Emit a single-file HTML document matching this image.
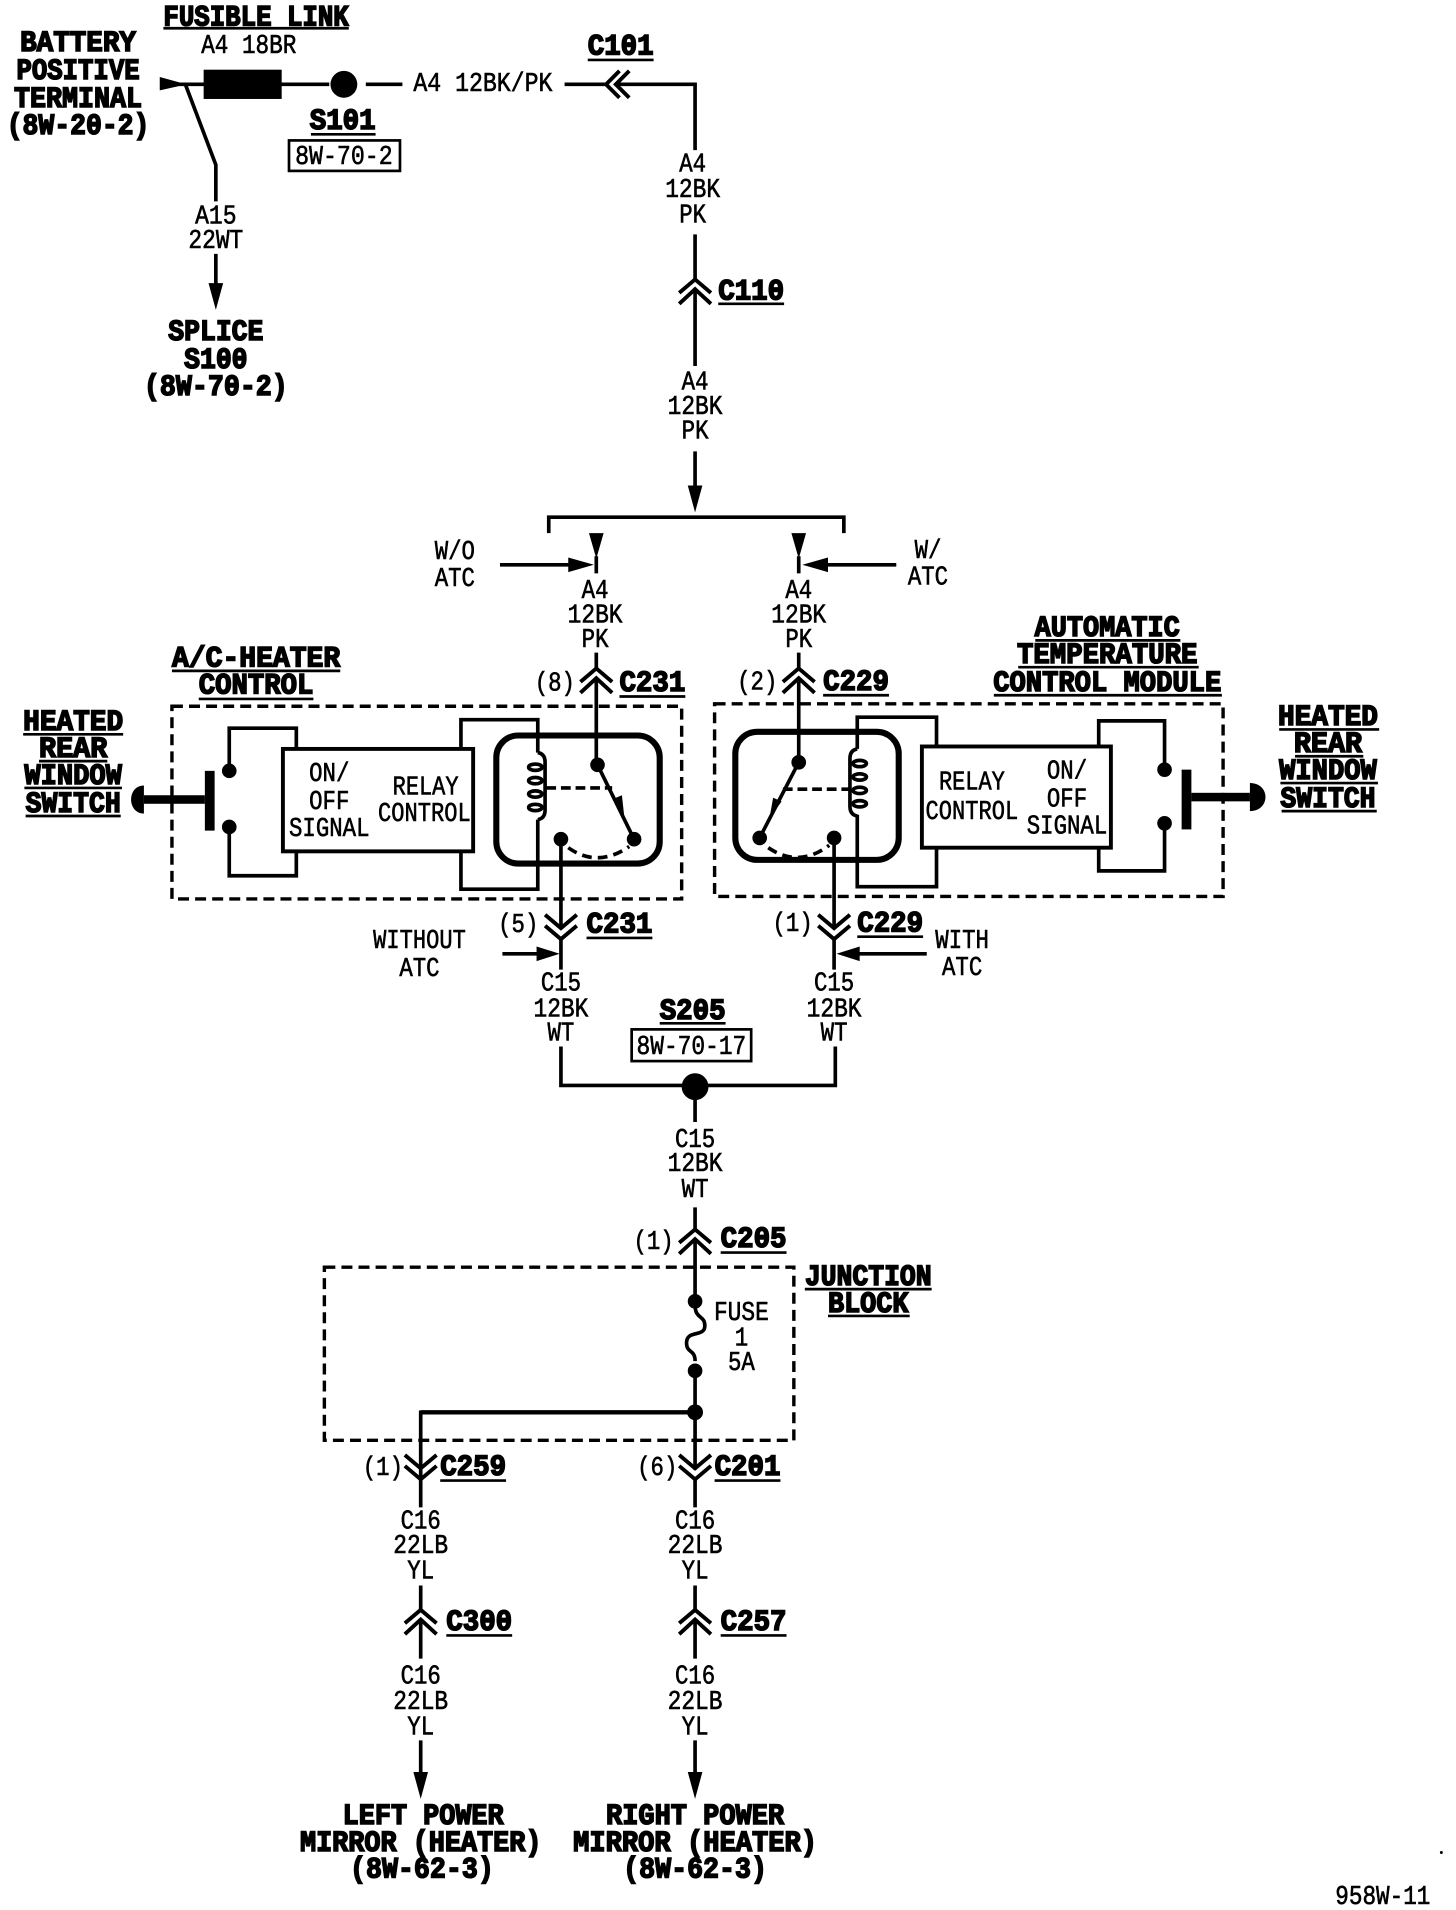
<!DOCTYPE html>
<html><head><meta charset="utf-8"><style>
html,body{margin:0;padding:0;background:#fff}
svg{display:block}
.r{font:22px "Liberation Mono",monospace;fill:#000;text-anchor:middle;stroke:#000;stroke-width:.5;transform:translateY(-.7px)}
.b{font:bold 24px "Liberation Mono",monospace;fill:#000;text-anchor:middle;stroke:#000;stroke-width:1.3;transform:translateY(-1.4px)}
.w{fill:none;stroke:#000;stroke-width:3}
.u{fill:none;stroke:#000;stroke-width:2.2}
.d{fill:none;stroke:#000;stroke-width:2.8;stroke-dasharray:9 5}
.c{fill:none;stroke:#000;stroke-width:3.2}
</style></head><body>
<svg width="1456" height="1910" viewBox="0 0 1194 1566" xmlns="http://www.w3.org/2000/svg">
<defs>
<g id="cu"><polyline class="c" points="-13,1 0,-10 13,1"/><polyline class="c" points="-13,10 0,-2 13,10"/></g>
<g id="cd"><polyline class="c" points="-13,-10 0,1 13,-10"/><polyline class="c" points="-13,-1 0,10 13,-1"/></g>
<polygon id="ad" points="-6,-22 6,-22 0,0"/>
</defs>
<rect width="1194" height="1566" fill="#fff"/>

<!-- top -->
<polygon points="131,63 131,74 153,69"/>
<path class="w" d="M140,69H270M300,69H330M463,69H497M505,69H570V123"/>
<rect x="167" y="57" width="64" height="24"/>
<circle cx="282" cy="69" r="11"/>
<polyline class="c" points="508,58 497,69 508,80"/><polyline class="c" points="516,58 505,69 516,80"/>
<path class="w" d="M152,69L177,135V165M177,208V235"/>
<use href="#ad" x="177" y="254"/>
<rect x="237" y="115" width="91" height="25" class="u"/>
<path class="u" d="M134,23H286M255,110H308M482,49H536"/>
<text class="b" x="64" y="43" textLength="95" lengthAdjust="spacingAndGlyphs">BATTERY</text>
<text class="b" x="64" y="66" textLength="101" lengthAdjust="spacingAndGlyphs">POSITIVE</text>
<text class="b" x="64" y="89" textLength="105" lengthAdjust="spacingAndGlyphs">TERMINAL</text>
<text class="b" x="64" y="111" textLength="117" lengthAdjust="spacingAndGlyphs">(8W-20-2)</text>
<text class="b" x="210" y="22" textLength="152" lengthAdjust="spacingAndGlyphs">FUSIBLE LINK</text>
<text class="r" x="204" y="44" textLength="78" lengthAdjust="spacingAndGlyphs">A4 18BR</text>
<text class="r" x="396" y="75" textLength="114" lengthAdjust="spacingAndGlyphs">A4 12BK/PK</text>
<text class="b" x="509" y="46" textLength="54" lengthAdjust="spacingAndGlyphs">C101</text>
<text class="b" x="281" y="107" textLength="54" lengthAdjust="spacingAndGlyphs">S101</text>
<text class="r" x="282" y="135" textLength="80" lengthAdjust="spacingAndGlyphs">8W-70-2</text>
<text class="r" x="177" y="184" textLength="34" lengthAdjust="spacingAndGlyphs">A15</text>
<text class="r" x="177" y="204" textLength="45" lengthAdjust="spacingAndGlyphs">22WT</text>
<text class="b" x="177" y="280" textLength="78" lengthAdjust="spacingAndGlyphs">SPLICE</text>
<text class="b" x="177" y="303" textLength="52" lengthAdjust="spacingAndGlyphs">S100</text>
<text class="b" x="177" y="325" textLength="118" lengthAdjust="spacingAndGlyphs">(8W-70-2)</text>

<!-- main trunk -->
<text class="r" x="568" y="141" textLength="22" lengthAdjust="spacingAndGlyphs">A4</text>
<text class="r" x="568" y="162" textLength="45" lengthAdjust="spacingAndGlyphs">12BK</text>
<text class="r" x="568" y="183" textLength="22" lengthAdjust="spacingAndGlyphs">PK</text>
<path class="w" d="M570,192V229M570,238V300M570,370V400"/>
<use href="#cu" x="570" y="239"/>
<path class="u" d="M589,249H643"/>
<text class="b" x="616" y="247" textLength="54" lengthAdjust="spacingAndGlyphs">C110</text>
<text class="r" x="570" y="320" textLength="22" lengthAdjust="spacingAndGlyphs">A4</text>
<text class="r" x="570" y="340" textLength="45" lengthAdjust="spacingAndGlyphs">12BK</text>
<text class="r" x="570" y="360" textLength="22" lengthAdjust="spacingAndGlyphs">PK</text>
<use href="#ad" x="570" y="420"/>
<path class="w" d="M450,437V424H692V437M489,456V470M655,456V470"/>
<polygon points="483,437 495,437 489,458"/><polygon points="649,437 661,437 655,458"/>
<path class="w" d="M410,463H470M735,463H676"/>
<polygon points="466,457 466,469 487,463"/><polygon points="679,457 679,469 658,463"/>
<text class="r" x="373" y="459" textLength="33" lengthAdjust="spacingAndGlyphs">W/O</text>
<text class="r" x="373" y="481" textLength="33" lengthAdjust="spacingAndGlyphs">ATC</text>
<text class="r" x="761" y="458" textLength="22" lengthAdjust="spacingAndGlyphs">W/</text>
<text class="r" x="761" y="480" textLength="33" lengthAdjust="spacingAndGlyphs">ATC</text>
<text class="r" x="488" y="491" textLength="22" lengthAdjust="spacingAndGlyphs">A4</text>
<text class="r" x="488" y="511" textLength="45" lengthAdjust="spacingAndGlyphs">12BK</text>
<text class="r" x="488" y="531" textLength="22" lengthAdjust="spacingAndGlyphs">PK</text>
<text class="r" x="655" y="491" textLength="22" lengthAdjust="spacingAndGlyphs">A4</text>
<text class="r" x="655" y="511" textLength="45" lengthAdjust="spacingAndGlyphs">12BK</text>
<text class="r" x="655" y="531" textLength="22" lengthAdjust="spacingAndGlyphs">PK</text>

<!-- connectors above modules -->
<path class="w" d="M489,535V549M489,557V627M655,535V549M655,557V625"/>
<use href="#cu" x="489" y="558"/><use href="#cu" x="655" y="558"/>
<text class="r" x="455" y="567" textLength="33" lengthAdjust="spacingAndGlyphs">(8)</text>
<text class="r" x="621" y="566" textLength="33" lengthAdjust="spacingAndGlyphs">(2)</text>
<text class="b" x="535" y="568" textLength="54" lengthAdjust="spacingAndGlyphs">C231</text>
<text class="b" x="702" y="567" textLength="54" lengthAdjust="spacingAndGlyphs">C229</text>
<path class="u" d="M508,571H562M675,570H729M141,550H279M163,573H257M849,525H968M835,547H983M815,570H1002M19,602H101M32,624H88M20,646H100M21,669H99M1049,598H1131M1062,620H1118M1050,642H1130M1051,665H1129"/>
<text class="b" x="210" y="548" textLength="138" lengthAdjust="spacingAndGlyphs">A/C-HEATER</text>
<text class="b" x="210" y="570" textLength="94" lengthAdjust="spacingAndGlyphs">CONTROL</text>
<text class="b" x="908" y="523" textLength="119" lengthAdjust="spacingAndGlyphs">AUTOMATIC</text>
<text class="b" x="908" y="545" textLength="148" lengthAdjust="spacingAndGlyphs">TEMPERATURE</text>
<text class="b" x="908" y="568" textLength="187" lengthAdjust="spacingAndGlyphs">CONTROL MODULE</text>
<text class="b" x="60" y="600" textLength="82" lengthAdjust="spacingAndGlyphs">HEATED</text>
<text class="b" x="60" y="622" textLength="56" lengthAdjust="spacingAndGlyphs">REAR</text>
<text class="b" x="60" y="644" textLength="80" lengthAdjust="spacingAndGlyphs">WINDOW</text>
<text class="b" x="60" y="667" textLength="78" lengthAdjust="spacingAndGlyphs">SWITCH</text>
<text class="b" x="1089" y="596" textLength="82" lengthAdjust="spacingAndGlyphs">HEATED</text>
<text class="b" x="1089" y="618" textLength="56" lengthAdjust="spacingAndGlyphs">REAR</text>
<text class="b" x="1089" y="640" textLength="80" lengthAdjust="spacingAndGlyphs">WINDOW</text>
<text class="b" x="1089" y="663" textLength="78" lengthAdjust="spacingAndGlyphs">SWITCH</text>

<!-- left module -->
<rect class="d" x="141" y="579" width="418" height="158"/>
<rect x="232" y="614" width="156" height="84" class="c"/>
<rect x="407" y="603" width="134" height="105" rx="18" fill="none" stroke="#000" stroke-width="5"/>
<path class="w" d="M243,614V597H188V632M188,678V718H243V698M378,614V590H441V617M441,672V729H378V698"/>
<circle cx="188" cy="632" r="6"/><circle cx="188" cy="678" r="6"/>
<rect x="168" y="632" width="8" height="49"/>
<rect x="118" y="652" width="50" height="7"/>
<path d="M118,644C104,644 104,667 118,667Z"/>
<path class="w" d="M441,617Q447,618 447,625V664Q447,671 441,672"/>
<ellipse class="w" cx="439" cy="629" rx="5.5" ry="2.6"/><ellipse class="w" cx="439" cy="640" rx="5.5" ry="2.6"/><ellipse class="w" cx="439" cy="651" rx="5.5" ry="2.6"/><ellipse class="w" cx="439" cy="662" rx="5.5" ry="2.6"/>
<path class="w" stroke-dasharray="8 4" d="M448,646H502"/>
<circle cx="490" cy="627" r="6"/><circle cx="520" cy="688" r="6"/><circle cx="460" cy="688" r="6"/>
<path class="w" d="M490,627L518,684"/>
<polygon points="503,655 510,652 512,670"/>
<path class="w" stroke-dasharray="8 5" d="M466,695Q490,712 516,694"/>
<text class="r" x="270" y="641" textLength="33" lengthAdjust="spacingAndGlyphs">ON/</text>
<text class="r" x="270" y="664" textLength="33" lengthAdjust="spacingAndGlyphs">OFF</text>
<text class="r" x="270" y="686" textLength="66" lengthAdjust="spacingAndGlyphs">SIGNAL</text>
<text class="r" x="349" y="652" textLength="54" lengthAdjust="spacingAndGlyphs">RELAY</text>
<text class="r" x="348" y="674" textLength="76" lengthAdjust="spacingAndGlyphs">CONTROL</text>

<!-- right module -->
<rect class="d" x="586" y="577" width="417" height="158"/>
<rect x="756" y="612" width="155" height="83" class="c"/>
<rect x="603" y="600" width="134" height="105" rx="18" fill="none" stroke="#000" stroke-width="5"/>
<path class="w" d="M768,612V588H703V614M703,668V727H768V695M901,612V591H955V631M955,675V714H901V695"/>
<circle cx="955" cy="631" r="6"/><circle cx="955" cy="675" r="6"/>
<rect x="969" y="631" width="8" height="49"/>
<rect x="977" y="650" width="48" height="7"/>
<path d="M1025,642C1042,642 1042,665 1025,665Z"/>
<path class="w" d="M703,614Q697,615 697,622V661Q697,668 703,669"/>
<ellipse class="w" cx="705" cy="626" rx="5.5" ry="2.6"/><ellipse class="w" cx="705" cy="637" rx="5.5" ry="2.6"/><ellipse class="w" cx="705" cy="648" rx="5.5" ry="2.6"/><ellipse class="w" cx="705" cy="659" rx="5.5" ry="2.6"/>
<path class="w" stroke-dasharray="8 4" d="M642,647H696"/>
<circle cx="655" cy="625" r="6"/><circle cx="623" cy="687" r="6"/><circle cx="684" cy="687" r="6"/>
<path class="w" d="M655,625L625,683"/>
<polygon points="634,654 641,657 631,671"/>
<path class="w" stroke-dasharray="8 5" d="M630,695Q655,712 680,693"/>
<text class="r" x="797" y="648" textLength="54" lengthAdjust="spacingAndGlyphs">RELAY</text>
<text class="r" x="797" y="672" textLength="76" lengthAdjust="spacingAndGlyphs">CONTROL</text>
<text class="r" x="875" y="639" textLength="33" lengthAdjust="spacingAndGlyphs">ON/</text>
<text class="r" x="875" y="662" textLength="33" lengthAdjust="spacingAndGlyphs">OFF</text>
<text class="r" x="875" y="684" textLength="66" lengthAdjust="spacingAndGlyphs">SIGNAL</text>

<!-- below modules -->
<path class="w" d="M460,688V761M460,769V795M684,687V761M684,769V795"/>
<use href="#cd" x="460" y="760"/><use href="#cd" x="684" y="760"/>
<text class="r" x="425" y="765" textLength="33" lengthAdjust="spacingAndGlyphs">(5)</text>
<text class="r" x="650" y="764" textLength="33" lengthAdjust="spacingAndGlyphs">(1)</text>
<text class="b" x="508" y="766" textLength="54" lengthAdjust="spacingAndGlyphs">C231</text>
<text class="b" x="730" y="765" textLength="54" lengthAdjust="spacingAndGlyphs">C229</text>
<path class="u" d="M481,769H535M703,768H757M541,839H595"/>
<text class="r" x="344" y="778" textLength="76" lengthAdjust="spacingAndGlyphs">WITHOUT</text>
<text class="r" x="344" y="801" textLength="33" lengthAdjust="spacingAndGlyphs">ATC</text>
<text class="r" x="789" y="778" textLength="44" lengthAdjust="spacingAndGlyphs">WITH</text>
<text class="r" x="789" y="800" textLength="33" lengthAdjust="spacingAndGlyphs">ATC</text>
<path class="w" d="M412,782H445M760,782H700"/>
<polygon points="440,776 440,788 459,782"/><polygon points="705,776 705,788 686,782"/>
<text class="r" x="460" y="813" textLength="33" lengthAdjust="spacingAndGlyphs">C15</text>
<text class="r" x="460" y="834" textLength="45" lengthAdjust="spacingAndGlyphs">12BK</text>
<text class="r" x="460" y="854" textLength="22" lengthAdjust="spacingAndGlyphs">WT</text>
<text class="r" x="684" y="813" textLength="33" lengthAdjust="spacingAndGlyphs">C15</text>
<text class="r" x="684" y="834" textLength="45" lengthAdjust="spacingAndGlyphs">12BK</text>
<text class="r" x="684" y="854" textLength="22" lengthAdjust="spacingAndGlyphs">WT</text>
<path class="w" d="M460,858V890H685V858M570,890V920"/>
<circle cx="570" cy="891" r="11"/>
<text class="b" x="568" y="837" textLength="54" lengthAdjust="spacingAndGlyphs">S205</text>
<rect x="518" y="844" width="98" height="26" class="u"/>
<text class="r" x="567" y="865" textLength="90" lengthAdjust="spacingAndGlyphs">8W-70-17</text>

<text class="r" x="570" y="941" textLength="33" lengthAdjust="spacingAndGlyphs">C15</text>
<text class="r" x="570" y="961" textLength="45" lengthAdjust="spacingAndGlyphs">12BK</text>
<text class="r" x="570" y="982" textLength="22" lengthAdjust="spacingAndGlyphs">WT</text>
<path class="w" d="M570,990V1008M570,1017V1067"/>
<use href="#cu" x="570" y="1018"/>
<text class="r" x="536" y="1025" textLength="33" lengthAdjust="spacingAndGlyphs">(1)</text>
<text class="b" x="618" y="1024" textLength="54" lengthAdjust="spacingAndGlyphs">C205</text>
<path class="u" d="M591,1027H645M660,1057H764M679,1079H746M361,1214H415M586,1214H640M366,1341H420M591,1341H645"/>

<!-- junction block -->
<rect class="d" x="266" y="1039" width="385" height="142"/>
<text class="b" x="712" y="1055" textLength="104" lengthAdjust="spacingAndGlyphs">JUNCTION</text>
<text class="b" x="712" y="1077" textLength="66" lengthAdjust="spacingAndGlyphs">BLOCK</text>
<circle cx="570" cy="1067" r="6"/><circle cx="570" cy="1124" r="6"/><circle cx="570" cy="1158" r="6.5"/>
<path class="w" d="M570,1070C570,1082 578,1078 578,1087C578,1097 563,1090 563,1101C563,1110 570,1106 570,1116M570,1124V1205M345,1212V1158H570"/>
<path d="M345,1156.2H570V1159.8H345Z"/>
<text class="r" x="608" y="1083" textLength="45" lengthAdjust="spacingAndGlyphs">FUSE</text>
<text class="r" x="608" y="1104" textLength="11" lengthAdjust="spacingAndGlyphs">1</text>
<text class="r" x="608" y="1124" textLength="22" lengthAdjust="spacingAndGlyphs">5A</text>

<use href="#cd" x="345" y="1203"/><use href="#cd" x="570" y="1203"/>
<text class="r" x="314" y="1210" textLength="33" lengthAdjust="spacingAndGlyphs">(1)</text>
<text class="r" x="539" y="1210" textLength="33" lengthAdjust="spacingAndGlyphs">(6)</text>
<text class="b" x="388" y="1211" textLength="54" lengthAdjust="spacingAndGlyphs">C259</text>
<text class="b" x="613" y="1211" textLength="54" lengthAdjust="spacingAndGlyphs">C201</text>
<path class="w" d="M345,1213V1236M570,1213V1236M345,1300V1321M345,1329V1360M570,1300V1321M570,1329V1360M345,1427V1460M570,1427V1460"/>
<text class="r" x="345" y="1254" textLength="33" lengthAdjust="spacingAndGlyphs">C16</text>
<text class="r" x="345" y="1274" textLength="45" lengthAdjust="spacingAndGlyphs">22LB</text>
<text class="r" x="345" y="1295" textLength="22" lengthAdjust="spacingAndGlyphs">YL</text>
<text class="r" x="570" y="1254" textLength="33" lengthAdjust="spacingAndGlyphs">C16</text>
<text class="r" x="570" y="1274" textLength="45" lengthAdjust="spacingAndGlyphs">22LB</text>
<text class="r" x="570" y="1295" textLength="22" lengthAdjust="spacingAndGlyphs">YL</text>
<use href="#cu" x="345" y="1330"/><use href="#cu" x="570" y="1330"/>
<text class="b" x="393" y="1338" textLength="54" lengthAdjust="spacingAndGlyphs">C300</text>
<text class="b" x="618" y="1338" textLength="54" lengthAdjust="spacingAndGlyphs">C257</text>
<text class="r" x="345" y="1381" textLength="33" lengthAdjust="spacingAndGlyphs">C16</text>
<text class="r" x="345" y="1402" textLength="45" lengthAdjust="spacingAndGlyphs">22LB</text>
<text class="r" x="345" y="1423" textLength="22" lengthAdjust="spacingAndGlyphs">YL</text>
<text class="r" x="570" y="1381" textLength="33" lengthAdjust="spacingAndGlyphs">C16</text>
<text class="r" x="570" y="1402" textLength="45" lengthAdjust="spacingAndGlyphs">22LB</text>
<text class="r" x="570" y="1423" textLength="22" lengthAdjust="spacingAndGlyphs">YL</text>
<use href="#ad" x="345" y="1475"/><use href="#ad" x="570" y="1475"/>

<text class="b" x="347" y="1497" textLength="132" lengthAdjust="spacingAndGlyphs">LEFT POWER</text>
<text class="b" x="345" y="1519" textLength="198" lengthAdjust="spacingAndGlyphs">MIRROR (HEATER)</text>
<text class="b" x="346" y="1541" textLength="118" lengthAdjust="spacingAndGlyphs">(8W-62-3)</text>
<text class="b" x="570" y="1497" textLength="146" lengthAdjust="spacingAndGlyphs">RIGHT POWER</text>
<text class="b" x="570" y="1519" textLength="200" lengthAdjust="spacingAndGlyphs">MIRROR (HEATER)</text>
<text class="b" x="570" y="1541" textLength="118" lengthAdjust="spacingAndGlyphs">(8W-62-3)</text>
<text class="r" x="1134" y="1562" textLength="78" lengthAdjust="spacingAndGlyphs">958W-11</text>
<circle cx="1182" cy="1519" r="1.2"/>
</svg>
</body></html>
